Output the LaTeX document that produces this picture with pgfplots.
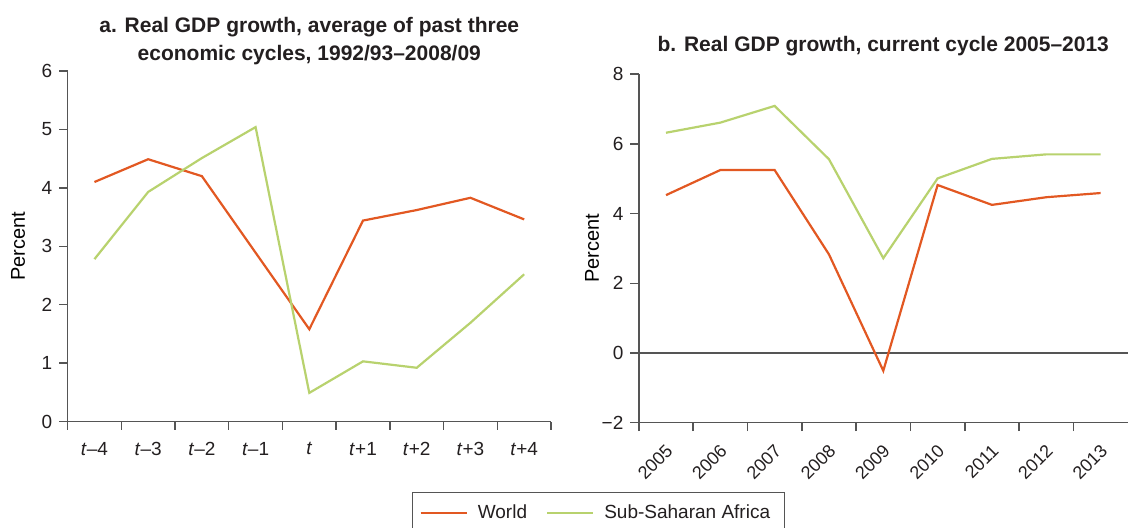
\documentclass[border=0pt]{standalone}
\usepackage{fontspec}
\setmainfont{Liberation Sans}
\usepackage{pgfplots}
\pgfplotsset{compat=1.18}

\definecolor{worldc}{RGB}{226,88,34}
\definecolor{ssac}{RGB}{184,210,110}
\definecolor{axgray}{RGB}{85,85,85}
\definecolor{txt}{RGB}{35,31,32}

% shared look of both panels
\pgfplotsset{
  panel/.style={
    scale only axis,
    xmin=-0.5, xmax=8.5,
    axis x line*=bottom, axis y line*=left,
    axis line style={-, draw=axgray, line width=0.75pt},
    tick align=outside,
    major tick length=4.2pt,
    every tick/.style={draw=axgray, line width=0.75pt},
    /pgf/number format/assume math mode=true,
    tick label style={font=\fontsize{9.5}{11}\selectfont, text=txt},
    label style={font=\fontsize{9.5}{11}\selectfont, text=txt},
    title style={font=\bfseries\fontsize{10.5}{14}\selectfont, text=txt, align=center},
    every axis y label/.style={at={(axis description cs:#1,0.5)}, rotate=90, anchor=center},
  },
  worldline/.style={worldc, line width=1.1pt},
  ssaline/.style={ssac, line width=1.1pt},
}

\begin{document}
\begin{tikzpicture}
\useasboundingbox (0,0) rectangle (564pt,263.5pt);

% a. average of past three cycles
\begin{axis}[panel=-0.1026,
  at={(33.8pt,52.75pt)}, anchor=south west,
  width=241.7pt, height=175.25pt,
  ymin=0, ymax=6, ytick={0,...,6},
  xtick={-0.5,0.5,...,8.5},
  xticklabels={\textit{t}–4,\textit{t}–3,\textit{t}–2,\textit{t}–1,\textit{t},\textit{t}+1,\textit{t}+2,\textit{t}+3,\textit{t}+4,{}},
  xticklabel style={xshift=13.43pt, yshift=-2.5pt},
  ylabel={Percent},
  title={a. Real GDP growth, average of past three\\economic cycles, 1992/93–2008/09},
  title style={yshift=-6.5pt},
  legend columns=2,
  legend style={at={(0.7125,-0.201)}, anchor=north west,
    draw=axgray, line width=0.6pt,
    font=\fontsize{9.5}{11}\selectfont, text=txt,
    inner xsep=2pt, inner ysep=4pt,
    nodes={inner xsep=5pt},
    /tikz/every odd column/.append style={column sep=0pt},
    /tikz/every even column/.append style={column sep=3pt}},
  legend image code/.code={\path (0pt,0pt); \draw[#1] (1.5pt,0pt) -- (24.5pt,0pt);},
]
\addplot[worldline] coordinates {(0,4.10) (1,4.49) (2,4.20) (3,2.89) (4,1.58) (5,3.44) (6,3.62) (7,3.83) (8,3.46)};
\addlegendentry{World}
\addplot[ssaline] coordinates {(0,2.78) (1,3.93) (2,4.51) (3,5.04) (4,0.49) (5,1.03) (6,0.92) (7,1.69) (8,2.52)};
\addlegendentry{Sub-Saharan Africa}
\end{axis}

% b. current cycle
\begin{axis}[panel=-0.0956,
  at={(319.4pt,52.15pt)}, anchor=south west,
  width=244.5pt, height=174.25pt,
  ymin=-2, ymax=8, ytick={-2,0,2,4,6,8},
  yticklabels={−2,0,2,4,6,8},
  xtick={-0.5,0.5,...,7.5},
  xticklabels={2005,2006,2007,2008,2009,2010,2011,2012,2013},
  xticklabel style={xshift=13pt, yshift=-1pt, rotate=45, anchor=north east, font=\fontsize{9}{10}\selectfont},
  ylabel={Percent},
  title={b. Real GDP growth, current cycle 2005–2013},
  title style={yshift=-0.5pt},
]
\draw[axgray, line width=0.75pt] (axis cs:-0.5,0) -- (axis cs:8.5,0);
\addplot[worldline] coordinates {(0,4.53) (1,5.25) (2,5.25) (3,2.83) (4,-0.51) (5,4.82) (6,4.25) (7,4.47) (8,4.59)};
\addplot[ssaline] coordinates {(0,6.32) (1,6.61) (2,7.09) (3,5.56) (4,2.72) (5,5.01) (6,5.57) (7,5.70) (8,5.70)};
\end{axis}
\end{tikzpicture}
\end{document}
